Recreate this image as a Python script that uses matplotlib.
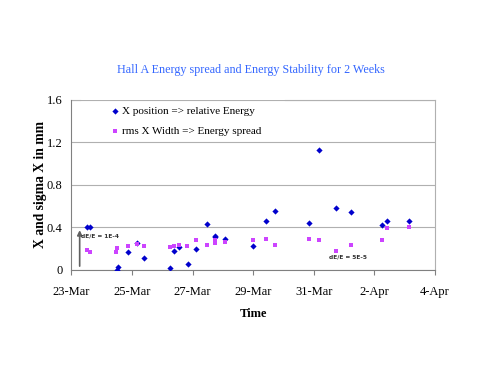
import datetime as dt
import matplotlib
matplotlib.use("Agg")
import matplotlib.pyplot as plt
import matplotlib.dates as mdates

# days measured from 23-Mar (fractional)
pos_days = [0.52, 0.62, 1.49, 1.53, 1.88, 2.17, 2.40, 3.26, 3.39, 3.55, 3.84,
            4.12, 4.49, 4.73, 4.73, 5.06, 5.98, 6.41, 6.72, 7.84, 8.19, 8.74,
            9.24, 10.24, 10.42, 11.16]
pos_vals = [0.40, 0.40, 0.00, 0.03, 0.17, 0.25, 0.11, 0.02, 0.18, 0.22, 0.06,
            0.20, 0.43, 0.32, 0.31, 0.295, 0.226, 0.458, 0.558, 0.445, 1.126, 0.586,
            0.546, 0.424, 0.458, 0.458]

wid_days = [0.52, 0.62, 1.47, 1.51, 1.88, 2.15, 2.40, 3.25, 3.39, 3.55, 3.83,
            4.12, 4.49, 4.73, 4.73, 5.06, 5.98, 6.41, 6.72, 7.83, 8.19, 8.74,
            9.24, 10.24, 10.42, 11.16]
wid_vals = [0.188, 0.166, 0.166, 0.207, 0.229, 0.245, 0.223, 0.213, 0.229, 0.238, 0.229,
            0.282, 0.235, 0.28, 0.25, 0.263, 0.282, 0.289, 0.232, 0.289, 0.282, 0.179,
            0.232, 0.282, 0.395, 0.405]

start = dt.datetime(2005, 3, 23)
end = dt.datetime(2005, 4, 4)
pos_t = [start + dt.timedelta(days=d) for d in pos_days]
wid_t = [start + dt.timedelta(days=d) for d in wid_days]

plt.rcParams["font.family"] = ["Liberation Serif", "DejaVu Serif"]

fig = plt.figure(figsize=(5.01, 3.76), dpi=100)
ax = fig.add_axes([0.1427, 0.282, 0.7253, 0.453])

ax.scatter(pos_t, pos_vals, marker="D", s=10, color="#0000cc", linewidths=0,
           label="X position => relative Energy", zorder=3)
ax.scatter(wid_t, wid_vals, marker="s", s=11, color="#cc44ff", linewidths=0,
           label="rms X Width => Energy spread", zorder=3)

ax.set_xlim(start, end)
ax.set_ylim(0, 1.6)
ax.set_yticks([0, 0.4, 0.8, 1.2, 1.6])
ax.set_yticklabels(["0", "0.4", "0.8", "1.2", "1.6"])
ax.xaxis.set_major_locator(mdates.DayLocator(bymonthday=[23, 25, 27, 29, 31, 2, 4]))
ax.xaxis.set_major_formatter(mdates.DateFormatter("%-d-%b"))
ax.tick_params(axis="x", labelsize=9, length=3.5, color="#808080", pad=8)
ax.tick_params(axis="y", labelsize=9, length=0, pad=6.5)

ax.grid(axis="y", color="#b0b0b0", linewidth=0.8)
ax.set_axisbelow(True)
ax.spines["right"].set_color("#b0b0b0")
ax.spines["left"].set_color("#808080")
ax.spines["bottom"].set_color("#808080")
# the legend sits over part of the top border, so draw it in two pieces
ax.spines["top"].set_visible(False)
for x0, x1 in [(0.0, 0.023), (0.587, 1.0)]:
    ax.plot([x0, x1], [1, 1], transform=ax.transAxes, color="#b0b0b0",
            lw=0.8, clip_on=False)

ax.set_xlabel("Time", fontsize=9, fontweight="bold", labelpad=7)
ax.set_ylabel("X and sigma X in mm", fontsize=9.8, fontweight="bold", labelpad=0)
fig.suptitle("Hall A Energy spread and Energy Stability for 2 Weeks",
             fontsize=8.7, color="#3366ff", y=0.831)

# arrow showing dE/E = 1E-4
ax.annotate("", xy=(start + dt.timedelta(days=0.27), 0.4),
            xytext=(start + dt.timedelta(days=0.27), 0.01),
            arrowprops=dict(arrowstyle="-|>", color="#606060", lw=1.2,
                            mutation_scale=7))
ax.text(start + dt.timedelta(days=0.33), 0.32, "dE/E = 1E-4", fontsize=4.2,
        fontweight="bold", family=["DejaVu Sans"], color="#333333", va="center")
ax.text(start + dt.timedelta(days=9.14), 0.125, "dE/E = 5E-5", fontsize=4.2,
        fontweight="bold", family=["DejaVu Sans"], color="#333333", va="center",
        ha="center")

ax.legend(loc="upper left", bbox_to_anchor=(0.1045, 0.96), fontsize=8,
          frameon=False, handlelength=1.0, handletextpad=0.15,
          labelspacing=0.9, borderpad=0.0, borderaxespad=0.0)

fig.savefig("out.png", dpi=100)
